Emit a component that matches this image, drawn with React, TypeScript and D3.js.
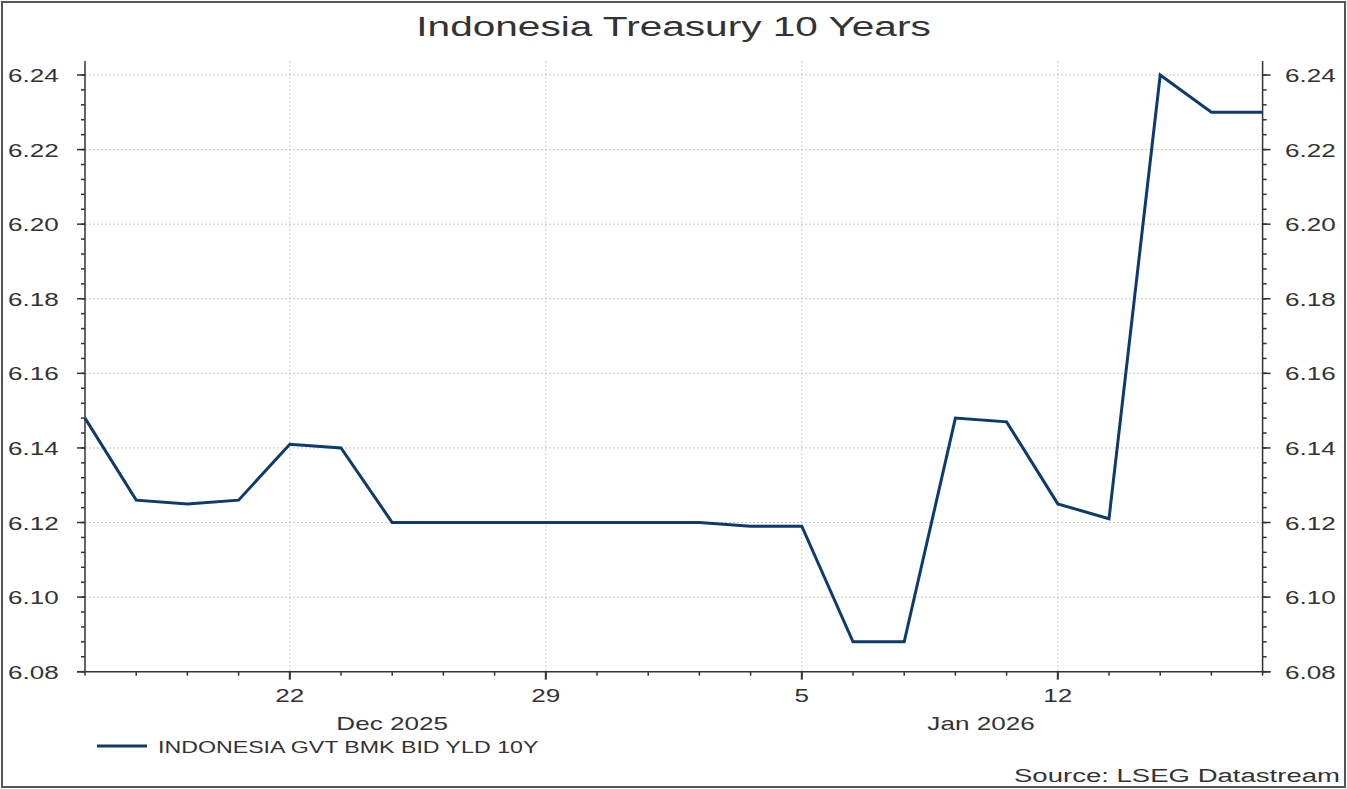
import React from "react";
import * as d3 from "d3";

const dates: string[] = [
  "2025-12-16", "2025-12-17", "2025-12-18", "2025-12-19",
  "2025-12-22", "2025-12-23", "2025-12-24", "2025-12-25", "2025-12-26",
  "2025-12-29", "2025-12-30", "2025-12-31", "2026-01-01", "2026-01-02",
  "2026-01-05", "2026-01-06", "2026-01-07", "2026-01-08", "2026-01-09",
  "2026-01-12", "2026-01-13", "2026-01-14", "2026-01-15", "2026-01-16",
];
const yields: number[] = [
  6.148, 6.126, 6.125, 6.126,
  6.141, 6.140, 6.120, 6.120, 6.120,
  6.120, 6.120, 6.120, 6.120, 6.119,
  6.119, 6.088, 6.088, 6.148, 6.147,
  6.125, 6.121, 6.240, 6.230, 6.230,
];
const majorDays: string[] = ["2025-12-22", "2025-12-29", "2026-01-05", "2026-01-12"];
const yTicks: number[] = [6.08, 6.10, 6.12, 6.14, 6.16, 6.18, 6.20, 6.22, 6.24];
const months: { label: string; from: string; to: string }[] = [
  { label: "Dec 2025", from: "2025-12-16", to: "2026-01-01" },
  { label: "Jan 2026", from: "2026-01-01", to: "2026-01-16" },
];
const title = "Indonesia Treasury 10 Years";
const seriesName = "INDONESIA GVT BMK BID YLD 10Y";
const source = "Source: LSEG Datastream";

const W = 1347, H = 789;
const L = 85, R = 1262.6, T = 75, B = 671.7, AXTOP = 61;
const FONT = "'Liberation Sans', Arial, sans-serif";
const LINE = "#0d3b6e";
const TXT = "#333";
const SX = 1.45;

function T_({ x, y, size, anchor = "start", children }: { x: number; y: number; size: number; anchor?: string; children: React.ReactNode }) {
  return (
    <text transform={`translate(${x},${y}) scale(${SX},1)`} fontSize={size} textAnchor={anchor} fill={TXT}>
      {children}
    </text>
  );
}

export default function App() {
  const x = d3.scalePoint<string>().domain(dates).range([L, R]);
  const y = d3.scaleLinear().domain([6.08, 6.24]).range([B, T]);
  const line = d3.line<number>().x((_, i) => x(dates[i])!).y((d) => y(d));
  const minorY = d3.range(6.08, 6.2401, 0.004);
  const fmtDay = d3.timeFormat("%-d");
  const parse = d3.timeParse("%Y-%m-%d");

  return (
    <div style={{ position: "absolute", left: 0, top: 0 }}>
      <svg width={W} height={H} style={{ display: "block" }} fontFamily={FONT}>
        <rect x={0} y={0} width={W} height={H} fill="#fff" />
        <rect x={2} y={2} width={W - 4} height={H - 4} fill="none" stroke="#555" strokeWidth={2} />
        <T_ x={W / 2} y={36} size={28} anchor="middle">{title}</T_>

        {/* horizontal grid */}
        {yTicks.slice(1).map((t) => (
          <line key={"hg" + t} x1={L} x2={R} y1={y(t)} y2={y(t)} stroke="#c8c8c8" strokeDasharray="2,2" strokeWidth={1} />
        ))}
        {/* vertical grid */}
        {majorDays.map((d) => (
          <line key={"vg" + d} x1={x(d)} x2={x(d)} y1={AXTOP} y2={B} stroke="#c8c8c8" strokeDasharray="2,2" strokeWidth={1} />
        ))}

        {/* left axis */}
        <line x1={L} x2={L} y1={AXTOP} y2={B} stroke="#333" strokeWidth={1.5} />
        {minorY.map((t, i) => (
          <line key={"lm" + i} x1={L - 4} x2={L} y1={y(t)} y2={y(t)} stroke="#333" strokeWidth={1.5} />
        ))}
        {yTicks.map((t) => (
          <g key={"ly" + t}>
            <line x1={L - 8} x2={L} y1={y(t)} y2={y(t)} stroke="#333" strokeWidth={1.5} />
            <T_ x={8} y={y(t) + 7} size={18}>{t.toFixed(2)}</T_>
          </g>
        ))}
        {/* right axis */}
        <line x1={R} x2={R} y1={AXTOP} y2={B} stroke="#333" strokeWidth={1.5} />
        {minorY.map((t, i) => (
          <line key={"rm" + i} x1={R} x2={R + 4} y1={y(t)} y2={y(t)} stroke="#333" strokeWidth={1.5} />
        ))}
        {yTicks.map((t) => (
          <g key={"ry" + t}>
            <line x1={R} x2={R + 8} y1={y(t)} y2={y(t)} stroke="#333" strokeWidth={1.5} />
            <T_ x={1285} y={y(t) + 7} size={18}>{t.toFixed(2)}</T_>
          </g>
        ))}

        {/* bottom axis */}
        <line x1={L - 8} x2={R + 8} y1={B} y2={B} stroke="#333" strokeWidth={1.5} />
        {dates.map((d) => (
          <line key={"xt" + d} x1={x(d)} x2={x(d)} y1={B} y2={B + 4} stroke="#333" strokeWidth={1.5} />
        ))}
        {majorDays.map((d) => (
          <g key={"xm" + d}>
            <line x1={x(d)} x2={x(d)} y1={B} y2={B + 8} stroke="#333" strokeWidth={2} />
            <T_ x={x(d)!} y={B + 30} size={18} anchor="middle">{fmtDay(parse(d)!)}</T_>
          </g>
        ))}
        {months.map((m) => (
          <T_ key={m.label} x={(x(m.from)! + x(m.to)!) / 2} y={B + 58} size={18} anchor="middle">{m.label}</T_>
        ))}

        {/* series */}
        <path d={line(yields)!} fill="none" stroke={LINE} strokeWidth={3} strokeLinejoin="miter" />

        {/* legend */}
        <line x1={97} x2={147} y1={746} y2={746} stroke={LINE} strokeWidth={3} />
        <T_ x={158} y={753} size={16}>{seriesName}</T_>

        {/* source */}
        <T_ x={1340} y={782} size={19} anchor="end">{source}</T_>
      </svg>
    </div>
  );
}
